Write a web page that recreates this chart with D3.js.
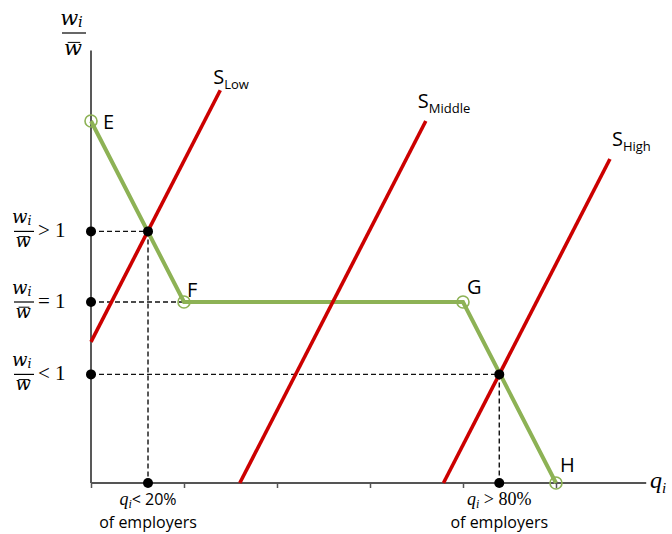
<!DOCTYPE html>
<html>
<head>
<meta charset="utf-8">
<script src="https://cdn.jsdelivr.net/npm/d3@7"></script>
<style>
  body { margin: 0; background: #fff; }
  svg { display: block; }
</style>
</head>
<body>
<script>
// ---------- data ----------
const demandPoints = [            // kinked curve E-F-G-H  (x = q, y = w/w̄)
  { name: "E", x: 0, y: 2 },
  { name: "F", x: 1, y: 1 },
  { name: "G", x: 4, y: 1 },
  { name: "H", x: 5, y: 0 }
];
const supplyNames = ["S", "S", "S"];
const supplySubs  = ["Low", "Middle", "High"];
const supplyX0 = [0.0, 1.6, 3.79];   // start x
const supplyY0 = [0.78, 0.0, 0.0];   // start y
const supplyX1 = [1.39, 3.6, 5.58];  // end x
const supplyY1 = [2.17, 2.0, 1.79];  // end y
const levelValues = [1.39, 1.0, 0.6];      // w/w̄ levels marked on y axis
const levelSigns  = [">", "=", "<"];
const equilibria  = [{ x: 0.613, y: 1.39 }, { x: 4.39, y: 0.6 }];
const xTicks = [0, 1, 2, 3, 4, 5];
const xLabelsTop = ["< 20%", " > 80%"];
const xLabelsBottom = ["of employers", "of employers"];
const xMax = 5.97, yMax = 2.39;

// ---------- setup ----------
const W = 672, H = 534;
const svg = d3.select("body").append("svg").attr("width", W).attr("height", H);
const x = d3.scaleLinear().domain([0, 1]).range([91, 184]);
const y = d3.scaleLinear().domain([0, 1]).range([483, 302]);

const green = "#8DB255", red = "#CC0000";
const sans = "'Open Sans', 'Noto Sans', sans-serif";
const serif = "'Liberation Serif', 'DejaVu Serif', serif";
const math = "'DejaVu Serif', serif";

// axes
svg.append("line").attr("x1", x(0)).attr("x2", x(0)).attr("y1", y(0)).attr("y2", y(yMax))
  .attr("stroke", "#222").attr("stroke-width", 1.5);
const xAxis = d3.axisBottom(x).tickValues(xTicks).tickSize(5).tickFormat("");
const gx = svg.append("g").attr("transform", `translate(0,${y(0)})`).call(xAxis);
gx.select(".domain").remove();
gx.selectAll(".tick line").attr("stroke", "#555").attr("stroke-width", 1.5);
svg.append("line").attr("x1", x(0)).attr("x2", x(xMax)).attr("y1", y(0)).attr("y2", y(0))
  .attr("stroke", "#555").attr("stroke-width", 1.8);

// dashed guide lines
const dash = svg.append("g").attr("stroke", "#111").attr("stroke-width", 1.4).attr("stroke-dasharray", "5,3");
dash.append("line").attr("x1", x(0)).attr("x2", x(equilibria[0].x)).attr("y1", y(levelValues[0])).attr("y2", y(levelValues[0]));
dash.append("line").attr("x1", x(equilibria[0].x)).attr("x2", x(equilibria[0].x)).attr("y1", y(levelValues[0])).attr("y2", y(0));
dash.append("line").attr("x1", x(0)).attr("x2", x(demandPoints[1].x)).attr("y1", y(levelValues[1])).attr("y2", y(levelValues[1]));
dash.append("line").attr("x1", x(0)).attr("x2", x(equilibria[1].x)).attr("y1", y(levelValues[2])).attr("y2", y(levelValues[2]));
dash.append("line").attr("x1", x(equilibria[1].x)).attr("x2", x(equilibria[1].x)).attr("y1", y(levelValues[2])).attr("y2", y(0));

// demand curve
svg.append("path").datum(demandPoints)
  .attr("d", d3.line().x(d => x(d.x)).y(d => y(d.y)))
  .attr("fill", "none").attr("stroke", green).attr("stroke-width", 4).attr("stroke-linejoin", "miter");

// supply lines
const supOff = [[-7, -6], [-8, -13], [2, -13]];
supplyX0.forEach((_, i) => {
  svg.append("line")
    .attr("x1", x(supplyX0[i])).attr("y1", y(supplyY0[i]))
    .attr("x2", x(supplyX1[i])).attr("y2", y(supplyY1[i]))
    .attr("stroke", red).attr("stroke-width", 3.6);
  const t = svg.append("text")
    .attr("x", x(supplyX1[i]) + supOff[i][0]).attr("y", y(supplyY1[i]) + supOff[i][1])
    .attr("font-family", sans).attr("fill", "#000");
  t.append("tspan").attr("font-size", 20).text(supplyNames[i]);
  t.append("tspan").attr("font-size", 13).attr("dy", 5).text(supplySubs[i]);
});

// open circle markers
svg.selectAll("circle.mk").data(demandPoints).join("circle")
  .attr("cx", d => x(d.x)).attr("cy", d => y(d.y)).attr("r", 6)
  .attr("fill", "none").attr("stroke", green).attr("stroke-width", 1.6);

// point labels
const lblOff = { E: [12, 8], F: [3, -5], G: [4, -8], H: [4, -11] };
svg.selectAll("text.pl").data(demandPoints).join("text")
  .attr("x", d => x(d.x) + lblOff[d.name][0]).attr("y", d => y(d.y) + lblOff[d.name][1])
  .attr("font-family", sans).attr("font-size", 20).text(d => d.name);

// black dots
const dots = [];
levelValues.forEach(v => dots.push({ x: 0, y: v }));
equilibria.forEach(e => { dots.push(e); dots.push({ x: e.x, y: 0 }); });
svg.selectAll("circle.dot").data(dots).join("circle")
  .attr("cx", d => x(d.x)).attr("cy", d => y(d.y)).attr("r", 5).attr("fill", "#000");

// fraction helper: w_i over w̄
function fraction(cx, cy, size, halfBar, topBase, botBase) {
  const g = svg.append("g").attr("font-family", math).attr("font-style", "italic");
  const top = g.append("text").attr("x", cx - size * 0.12).attr("y", cy + topBase).attr("text-anchor", "middle")
    .attr("font-size", size);
  top.append("tspan").text("w");
  top.append("tspan").attr("font-size", size * 0.7).attr("dy", size * 0.1).text("i");
  g.append("line").attr("x1", cx - halfBar).attr("x2", cx + halfBar).attr("y1", cy).attr("y2", cy)
    .attr("stroke", "#000").attr("stroke-width", 1.2);
  g.append("text").attr("x", cx - size * 0.05).attr("y", cy + botBase).attr("text-anchor", "middle")
    .attr("font-size", size).text("w");
  g.append("line").attr("x1", cx - size * 0.3).attr("x2", cx + size * 0.3)
    .attr("y1", cy + botBase - size * 0.6).attr("y2", cy + botBase - size * 0.6)
    .attr("stroke", "#000").attr("stroke-width", 1);
}

// y axis title
fraction(74, 33, 21, 12, -8, 22);

// y level labels
levelValues.forEach((v, i) => {
  const cy = y(v);
  fraction(24, cy, 18, 10, -8, 16);
  svg.append("text").attr("x", 38).attr("y", cy + 6).attr("font-family", serif)
    .attr("font-size", 21).text(levelSigns[i] + " 1");
});

// x axis title
const qt = svg.append("text").attr("x", 650).attr("y", y(0) + 5)
  .attr("font-family", serif).attr("font-style", "italic").attr("font-size", 24);
qt.append("tspan").text("q");
qt.append("tspan").attr("font-size", 15).attr("dy", 5).text("i");

// x labels under the axis
equilibria.forEach((e, i) => {
  const cx = x(e.x);
  const t = svg.append("text").attr("x", cx).attr("y", y(0) + 22).attr("text-anchor", "middle");
  t.append("tspan").attr("font-family", serif).attr("font-style", "italic").attr("font-size", 18).text("q");
  t.append("tspan").attr("font-family", serif).attr("font-style", "italic").attr("font-size", 12).attr("dy", 3).text("i");
  t.append("tspan").attr("font-family", i === 0 ? sans : serif).attr("font-size", i === 0 ? 16 : 18).attr("dy", -3)
    .text(xLabelsTop[i]);
  svg.append("text").attr("x", cx).attr("y", y(0) + 45).attr("text-anchor", "middle")
    .attr("font-family", sans).attr("font-size", 16).text(xLabelsBottom[i]);
});
</script>
</body>
</html>
